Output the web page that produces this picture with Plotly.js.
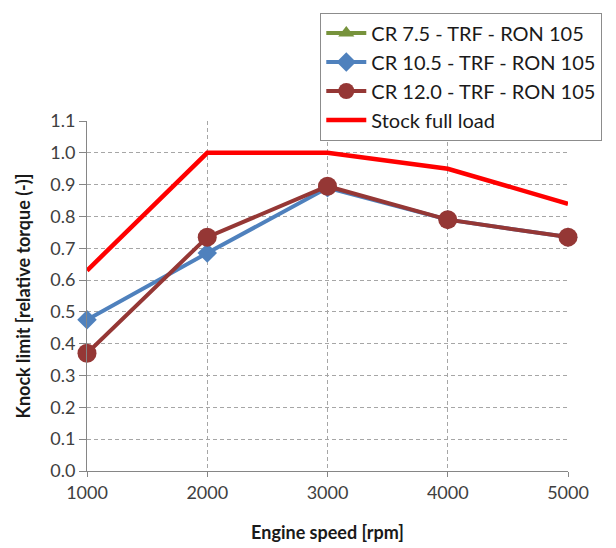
<!DOCTYPE html>
<html><head><meta charset="utf-8">
<script src="https://cdn.plot.ly/plotly-3.0.1.min.js"></script>
<style>html,body{margin:0;padding:0;background:#fff}#chart{width:616px;height:548px}</style>
</head><body><div id="chart"></div>
<script>
const engineSpeed = [1000, 2000, 3000, 4000, 5000];
const cr75 = [null, null, null, null, null];
const cr105 = [0.475, 0.685, 0.89, 0.79, 0.735];
const cr120 = [0.37, 0.735, 0.895, 0.79, 0.735];
const stockFullLoad = [0.63, 1.0, 1.0, 0.95, 0.84];
const seriesNames = ['CR 7.5 - TRF - RON 105', 'CR 10.5 - TRF - RON 105', 'CR 12.0 - TRF - RON 105', 'Stock full load'];

const traces = [
  {x: engineSpeed, y: cr75, name: seriesNames[0], mode: 'lines+markers',
   line: {color: '#77933C', width: 4}, marker: {symbol: 'triangle-up', size: 14, color: '#77933C'}, cliponaxis: false},
  {x: engineSpeed, y: cr105, name: seriesNames[1], mode: 'lines+markers',
   line: {color: '#4F81BD', width: 4}, marker: {symbol: 'diamond', size: 15, color: '#4F81BD'}, cliponaxis: false},
  {x: engineSpeed, y: cr120, name: seriesNames[2], mode: 'lines+markers',
   line: {color: '#953735', width: 4}, marker: {symbol: 'circle', size: 19, color: '#953735'}, cliponaxis: false},
  {x: engineSpeed, y: stockFullLoad, name: seriesNames[3], mode: 'lines',
   line: {color: '#FF0000', width: 4.5}, cliponaxis: false}
];

const layout = {
  width: 616, height: 548,
  margin: {l: 87, r: 48, t: 115, b: 77},
  paper_bgcolor: '#fff', plot_bgcolor: '#fff',
  font: {family: 'Lato, "Liberation Sans", sans-serif', size: 18, color: '#404040'},
  showlegend: true,
  legend: {x: 0.485, y: 1.31, xanchor: 'left', yanchor: 'top',
    bordercolor: '#8c8c8c', borderwidth: 1, bgcolor: '#fff',
    font: {size: 20, color: '#1a1a1a'}, tracegroupgap: 0, itemwidth: 40},
  xaxis: {range: [1000, 5000], tickvals: engineSpeed, ticktext: engineSpeed.map(String),
    showgrid: true, gridcolor: '#a6a6a6', griddash: '4px,3px', gridwidth: 1,
    showline: true, linecolor: '#868686', linewidth: 1,
    ticks: 'outside', ticklen: 5, tickcolor: '#868686',
    zeroline: false, tickfont: {size: 18, color: '#404040'},
    title: {text: '<b>Engine speed [rpm]</b>', font: {size: 18, color: '#1a1a1a'}, standoff: 24}},
  yaxis: {range: [0, 1.1], dtick: 0.1, tick0: 0, tickformat: '.1f',
    showgrid: true, gridcolor: '#a6a6a6', griddash: '4px,3px', gridwidth: 1,
    showline: true, linecolor: '#868686', linewidth: 1,
    ticks: 'outside', ticklen: 7, tickcolor: '#868686',
    zeroline: false, tickfont: {size: 18, color: '#404040'},
    title: {text: '<b>Knock limit [relative torque (-)]</b>', font: {size: 18, color: '#1a1a1a'}, standoff: 14}}
};

Plotly.newPlot('chart', traces, layout, {displayModeBar: false, staticPlot: true});
</script>
</body></html>
